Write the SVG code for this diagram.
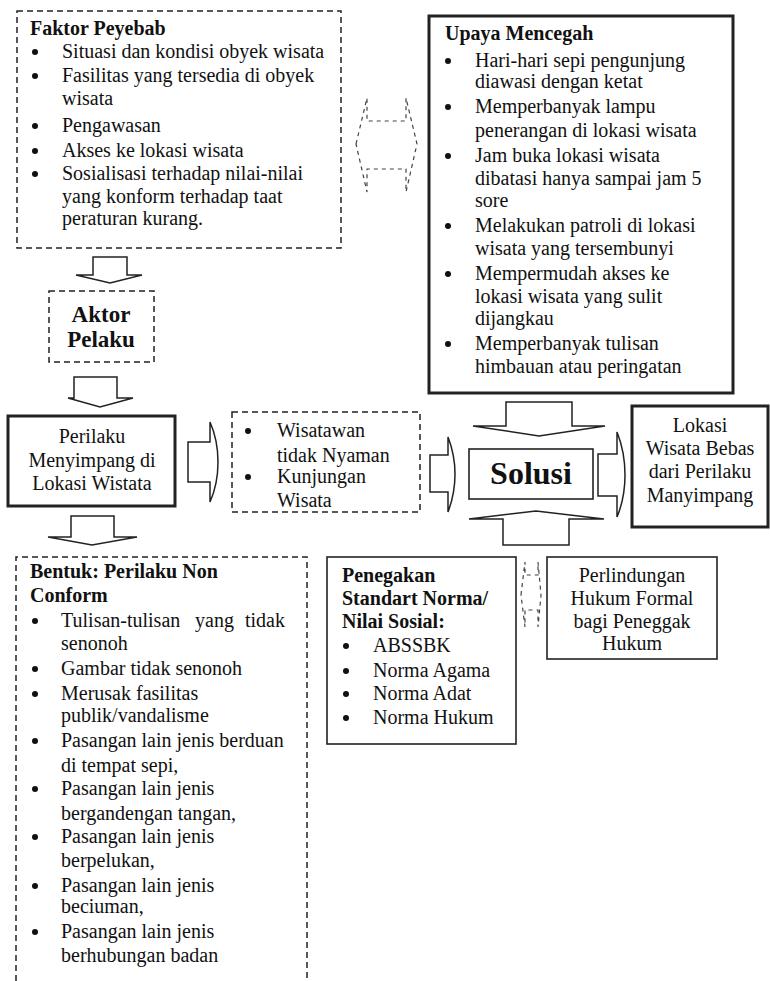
<svg xmlns="http://www.w3.org/2000/svg" width="770" height="981" viewBox="0 0 770 981">
<style>
text{font-family:"Liberation Serif","Times New Roman",serif;font-size:20px;fill:#111}
.b{font-weight:bold}
.c{text-anchor:middle}
.dash{fill:#fff;stroke:#222;stroke-width:1.5;stroke-dasharray:6 4}
.thick{fill:#fff;stroke:#222;stroke-width:3}
.thin{fill:#fff;stroke:#222;stroke-width:1.6}
.arr{fill:#fff;stroke:#222;stroke-width:1.5;stroke-linejoin:miter}
.darr{fill:none;stroke:#444;stroke-width:1.2;stroke-dasharray:4 4}
circle{fill:#111}
</style>
<g id="connectors">
<path class="arr" d="M93,257 H127 V275 H142 L110,283 L76,275 H93 Z"/>
<path class="arr" d="M74,377 H117 V398 H133 L100,407 L68,398 H74 Z"/>
<path class="arr" d="M71,516 H114 V537 H137 L92,545 L48,537 H71 Z"/>
<path class="arr" d="M188,442 H210 V422 Q218,440 218,462 Q218,484 210,502 V482 H188 Z"/>
<path class="arr" d="M430,455 H448 V437 Q455,455 455,474 Q455,494 448,512 V492 H430 Z"/>
<path class="arr" d="M598,454 H617 V432 Q625,452 625,475 Q625,498 617,517 V496 H598 Z"/>
<path class="arr" d="M506,402 H572 V426 H605 L539,436 L473,426 H506 Z"/>
<path class="arr" d="M503,545 H569 V519 H604 L536,511 L469,519 H503 Z"/>
<path class="darr" d="M356,144 L367,98 V121 H406 V98 L417,144 L406,192 V169 H367 V192 Z"/>
<path class="darr" d="M521,595 L525,562 V575 H538 V562 L541,595 L538,627 V610 H525 V627 Z"/>
</g>
<g id="faktor">
<rect class="dash" x="17" y="11" width="324" height="237"/>
<text class="b" x="30" y="35">Faktor Peyebab</text>
<circle cx="35" cy="52" r="3"/><circle cx="35" cy="76" r="3"/><circle cx="35" cy="126" r="3"/><circle cx="35" cy="151" r="3"/><circle cx="35" cy="174" r="3"/>
<text x="62" y="58">Situasi dan kondisi obyek wisata</text>
<text x="62" y="82">Fasilitas yang tersedia di obyek</text>
<text x="62" y="105">wisata</text>
<text x="62" y="132">Pengawasan</text>
<text x="62" y="157">Akses ke lokasi wisata</text>
<text x="62" y="180">Sosialisasi terhadap nilai-nilai</text>
<text x="62" y="203">yang konform terhadap taat</text>
<text x="62" y="225">peraturan kurang.</text>
</g>
<g id="upaya">
<rect class="thick" x="429" y="16" width="304" height="377"/>
<text class="b" x="445" y="40">Upaya Mencegah</text>
<circle cx="448" cy="61" r="3"/><circle cx="448" cy="107" r="3"/><circle cx="448" cy="156" r="3"/><circle cx="448" cy="226" r="3"/><circle cx="448" cy="274" r="3"/><circle cx="448" cy="344" r="3"/>
<text x="475" y="67">Hari-hari sepi pengunjung</text>
<text x="475" y="88">diawasi dengan ketat</text>
<text x="475" y="113">Memperbanyak lampu</text>
<text x="475" y="137">penerangan di lokasi wisata</text>
<text x="475" y="162">Jam buka lokasi wisata</text>
<text x="475" y="185">dibatasi hanya sampai jam 5</text>
<text x="475" y="207">sore</text>
<text x="475" y="232">Melakukan patroli di lokasi</text>
<text x="475" y="255">wisata yang tersembunyi</text>
<text x="475" y="280">Mempermudah akses ke</text>
<text x="475" y="303">lokasi wisata yang sulit</text>
<text x="475" y="325">dijangkau</text>
<text x="475" y="350">Memperbanyak tulisan</text>
<text x="475" y="373">himbauan atau peringatan</text>
</g>
<g id="aktor">
<rect class="dash" x="49" y="291" width="105" height="71"/>
<text class="b c" x="101" y="322" style="font-size:23px">Aktor</text>
<text class="b c" x="101" y="347" style="font-size:23px">Pelaku</text>
</g>
<g id="perilaku">
<rect class="thick" x="8" y="416" width="167" height="90"/>
<text class="c" x="92" y="443">Perilaku</text>
<text class="c" x="92" y="467">Menyimpang di</text>
<text class="c" x="92" y="490">Lokasi Wistata</text>
</g>
<g id="dampak">
<rect class="dash" x="232" y="412" width="188" height="100"/>
<circle cx="248" cy="431" r="3"/><circle cx="248" cy="477" r="3"/>
<text x="277" y="437">Wisatawan</text>
<text x="277" y="462">tidak Nyaman</text>
<text x="277" y="483">Kunjungan</text>
<text x="277" y="507">Wisata</text>
</g>
<g id="solusi">
<rect class="thin" x="469" y="449" width="124" height="50"/>
<text class="b c" x="531" y="484" style="font-size:32px">Solusi</text>
</g>
<g id="lokasi">
<rect class="thick" x="632" y="406" width="136" height="121"/>
<text class="c" x="700" y="432">Lokasi</text>
<text class="c" x="700" y="455">Wisata Bebas</text>
<text class="c" x="700" y="478">dari Perilaku</text>
<text class="c" x="700" y="502">Manyimpang</text>
</g>
<g id="bentuk">
<path class="dash" d="M16,981 V557 H307 V981" fill="none"/>
<text class="b" x="30" y="578">Bentuk: Perilaku Non</text>
<text class="b" x="30" y="602">Conform</text>
<circle cx="35" cy="621" r="3"/><circle cx="35" cy="669" r="3"/><circle cx="35" cy="694" r="3"/><circle cx="35" cy="741" r="3"/><circle cx="35" cy="789" r="3"/><circle cx="35" cy="837" r="3"/><circle cx="35" cy="886" r="3"/><circle cx="35" cy="932" r="3"/>
<text x="61" y="627">Tulisan-tulisan<tspan x="195">yang</tspan><tspan x="245">tidak</tspan></text>
<text x="61" y="650">senonoh</text>
<text x="61" y="675">Gambar tidak senonoh</text>
<text x="61" y="700">Merusak fasilitas</text>
<text x="61" y="722">publik/vandalisme</text>
<text x="61" y="747">Pasangan lain jenis berduan</text>
<text x="61" y="772">di tempat sepi,</text>
<text x="61" y="795">Pasangan lain jenis</text>
<text x="61" y="820">bergandengan tangan,</text>
<text x="61" y="843">Pasangan lain jenis</text>
<text x="61" y="867">berpelukan,</text>
<text x="61" y="892">Pasangan lain jenis</text>
<text x="61" y="913">beciuman,</text>
<text x="61" y="938">Pasangan lain jenis</text>
<text x="61" y="962">berhubungan badan</text>
</g>
<g id="penegakan">
<rect class="thin" x="327" y="557" width="189" height="187"/>
<text class="b" x="342" y="582">Penegakan</text>
<text class="b" x="342" y="605">Standart Norma/</text>
<text class="b" x="342" y="628">Nilai Sosial:</text>
<circle cx="346" cy="646" r="3"/><circle cx="346" cy="671" r="3"/><circle cx="346" cy="694" r="3"/><circle cx="346" cy="718" r="3"/>
<text x="373" y="652">ABSSBK</text>
<text x="373" y="677">Norma Agama</text>
<text x="373" y="700">Norma Adat</text>
<text x="373" y="724">Norma Hukum</text>
</g>
<g id="perlindungan">
<rect class="thin" x="547" y="557" width="170" height="102"/>
<text class="c" x="632" y="582">Perlindungan</text>
<text class="c" x="632" y="605">Hukum Formal</text>
<text class="c" x="632" y="628">bagi Peneggak</text>
<text class="c" x="632" y="650">Hukum</text>
</g>
</svg>
